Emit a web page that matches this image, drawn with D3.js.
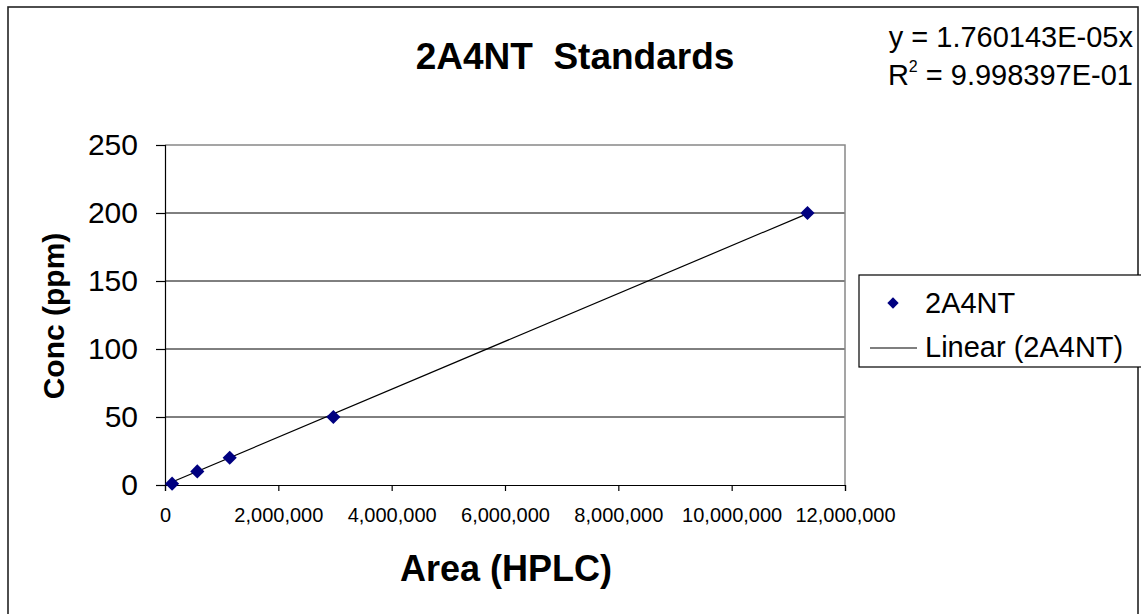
<!DOCTYPE html>
<html><head><meta charset="utf-8">
<script src="https://cdn.jsdelivr.net/npm/d3@7"></script>
<style>
html,body{margin:0;padding:0;background:#fff;}
text{font-family:"Liberation Sans",Arial,sans-serif;fill:#000;}
</style></head>
<body>
<svg id="chart" width="1141" height="614"></svg>
<script>
// Data
const areaValues = [125000, 570000, 1142000, 2971000, 11338000];
const concValues = [1, 10, 20, 50, 200];
const slope = 1.760143e-5;
const yTicks = [0, 50, 100, 150, 200, 250];
const xTicks = [0, 2000000, 4000000, 6000000, 8000000, 10000000, 12000000];
const titleText = "2A4NT  Standards";
const eqLine1 = "y = 1.760143E-05x";
const eqLine2 = " = 9.998397E-01";
const seriesName = "2A4NT";
const trendName = "Linear (2A4NT)";

const svg = d3.select("#chart");
svg.append("rect").attr("width",1141).attr("height",614).attr("fill","#fff");
// outer frame
svg.append("rect").attr("x",8).attr("y",7).attr("width",1130).attr("height",612)
  .attr("fill","none").attr("stroke","#222").attr("stroke-width",1.6);

const x = d3.scaleLinear().domain([0,12000000]).range([165,845]);
const y = d3.scaleLinear().domain([0,250]).range([485,145]);

// gridlines
svg.append("g").selectAll("line").data(yTicks.filter(d=>d>0 && d<250)).join("line")
  .attr("x1",x(0)).attr("x2",x(12000000)).attr("y1",d=>y(d)).attr("y2",d=>y(d))
  .attr("stroke","#000").attr("stroke-width",1);
// plot area top/right border grey
svg.append("path").attr("d",`M${x(0)},${y(250)}H${x(12000000)}V${y(0)}`)
  .attr("fill","none").attr("stroke","#888").attr("stroke-width",1.5);

// axes
const yAxis = d3.axisLeft(y).tickValues(yTicks).tickSize(9).tickPadding(18).tickFormat(d3.format("d"));
const gy = svg.append("g").attr("transform",`translate(${x(0)},0)`).call(yAxis);
gy.selectAll("text").style("font-size","30px").attr("font-family","Liberation Sans, Arial, sans-serif");
const xAxis = d3.axisBottom(x).tickValues(xTicks).tickSize(6).tickPadding(17).tickFormat(d3.format(","));
const gx = svg.append("g").attr("transform",`translate(0,${y(0)})`).call(xAxis);
gx.selectAll("text").style("font-size","20px").attr("font-family","Liberation Sans, Arial, sans-serif");
[gx,gy].forEach(g=>{g.select(".domain").attr("stroke","#000").attr("stroke-width",1.2);
  g.selectAll(".tick line").attr("stroke","#000").attr("stroke-width",1.2);});

// trendline
const xMin = d3.min(areaValues), xMax = d3.max(areaValues);
svg.append("line").attr("x1",x(xMin)).attr("y1",y(slope*xMin))
  .attr("x2",x(xMax)).attr("y2",y(slope*xMax)).attr("stroke","#000").attr("stroke-width",1.2);

// points
svg.append("g").selectAll("rect").data(areaValues).join("rect")
  .attr("x",-5).attr("y",-5).attr("width",10).attr("height",10)
  .attr("transform",(d,i)=>`translate(${x(d)},${y(concValues[i])}) rotate(45)`)
  .attr("fill","#000080");

// title
svg.append("text").attr("x",575).attr("y",69).attr("text-anchor","middle")
  .style("font-size","37px").style("font-weight","bold").style("white-space","pre")
  .attr("xml:space","preserve").text(titleText);

// equation
svg.append("text").attr("x",1133).attr("y",47).attr("text-anchor","end")
  .style("font-size","29px").text(eqLine1);
const r2 = svg.append("text").attr("x",1133).attr("y",85).attr("text-anchor","end").style("font-size","29px");
r2.append("tspan").text("R");
r2.append("tspan").attr("dy",-13).style("font-size","16px").text("2");
r2.append("tspan").attr("dy",13).text(eqLine2);

// axis titles
svg.append("text").attr("transform","translate(64,316) rotate(-90)").attr("text-anchor","middle")
  .style("font-size","30px").style("font-weight","bold").text("Conc (ppm)");
svg.append("text").attr("x",506).attr("y",581).attr("text-anchor","middle")
  .style("font-size","36px").style("font-weight","bold").text("Area (HPLC)");

// legend
svg.append("rect").attr("x",859).attr("y",275).attr("width",290).attr("height",92)
  .attr("fill","#fff").attr("stroke","#000").attr("stroke-width",1.2);
svg.append("rect").attr("x",-4).attr("y",-4).attr("width",8).attr("height",8)
  .attr("transform","translate(893,303) rotate(45)").attr("fill","#000080");
svg.append("text").attr("x",925).attr("y",313).style("font-size","29px").text(seriesName);
svg.append("line").attr("x1",870).attr("x2",917).attr("y1",348).attr("y2",348).attr("stroke","#000").attr("stroke-width",1.2);
svg.append("text").attr("x",925).attr("y",357).style("font-size","29px").text(trendName);
</script>
</body></html>
